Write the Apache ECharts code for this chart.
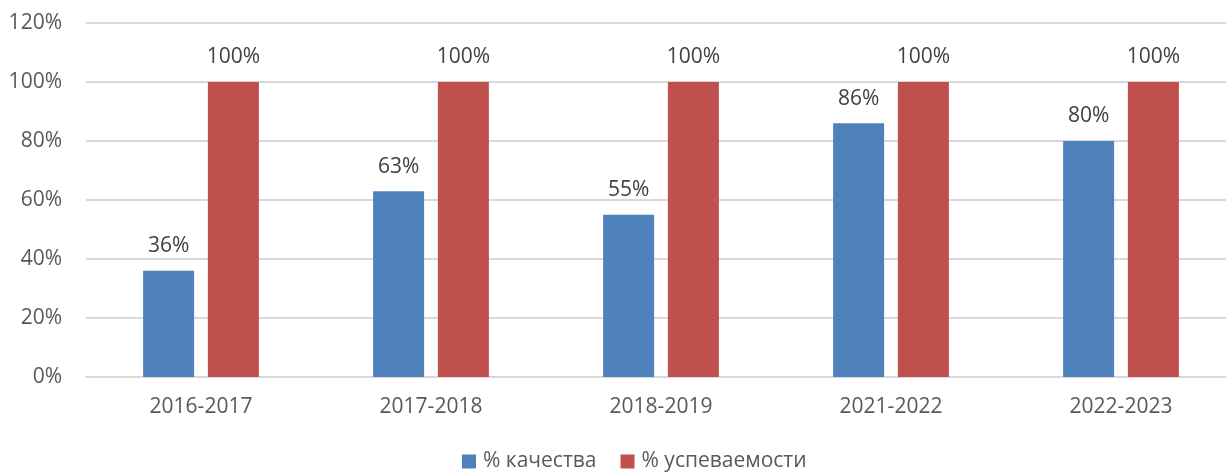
<!DOCTYPE html>
<html>
<head>
<meta charset="utf-8">
<script src="https://cdn.jsdelivr.net/npm/echarts@6/dist/echarts.min.js"></script>
<style>
  html, body { margin: 0; padding: 0; background: #fff; }
  #chart { width: 1226px; height: 472px; }
</style>
</head>
<body>
<div id="chart"></div>
<script>
// учебные годы
const years = ["2016-2017", "2017-2018", "2018-2019", "2021-2022", "2022-2023"];
const quality = [36, 63, 55, 86, 80];       // % качества
const progress = [100, 100, 100, 100, 100]; // % успеваемости
const seriesNames = ["% качества", "% успеваемости"];

const font = "'Open Sans', 'Liberation Sans', sans-serif";
const textColor = "#595959";

let myChart = echarts.init(document.getElementById("chart"));

let labelStyle = {
  show: true,
  position: "top",
  distance: 14,
  formatter: "{c}%",
  color: "#404040",
  fontSize: 21,
  fontFamily: font
};

let option = {
  animation: false,
  grid: {
    left: 86,
    top: 23,
    width: 1150,
    height: 354,
    outerBoundsMode: "none"
  },
  legend: {
    data: seriesNames,
    top: 446,
    left: 457,
    itemWidth: 14,
    itemHeight: 14,
    itemGap: 24,
    icon: "rect",
    textStyle: { color: textColor, fontSize: 21, fontFamily: font, padding: [0, 0, 0, 2] }
  },
  xAxis: {
    type: "category",
    data: years,
    axisTick: { show: false },
    axisLine: { lineStyle: { color: "#D9D9D9", width: 2 } },
    axisLabel: { color: textColor, fontSize: 21, fontFamily: font, margin: 20 }
  },
  yAxis: {
    type: "value",
    min: 0,
    max: 120,
    interval: 20,
    axisLine: { show: false },
    axisTick: { show: false },
    splitLine: { lineStyle: { color: "#D9D9D9", width: 2 } },
    axisLabel: { formatter: "{value}%", color: textColor, fontSize: 21, fontFamily: font, margin: 24 }
  },
  series: [
    {
      name: seriesNames[0],
      type: "bar",
      data: quality,
      barWidth: 51,
      barGap: "27%",
      itemStyle: { color: "#4F81BD" },
      label: labelStyle
    },
    {
      name: seriesNames[1],
      type: "bar",
      data: progress,
      barWidth: 51,
      itemStyle: { color: "#C0504D" },
      label: labelStyle
    }
  ]
};

myChart.setOption(option);
</script>
</body>
</html>
